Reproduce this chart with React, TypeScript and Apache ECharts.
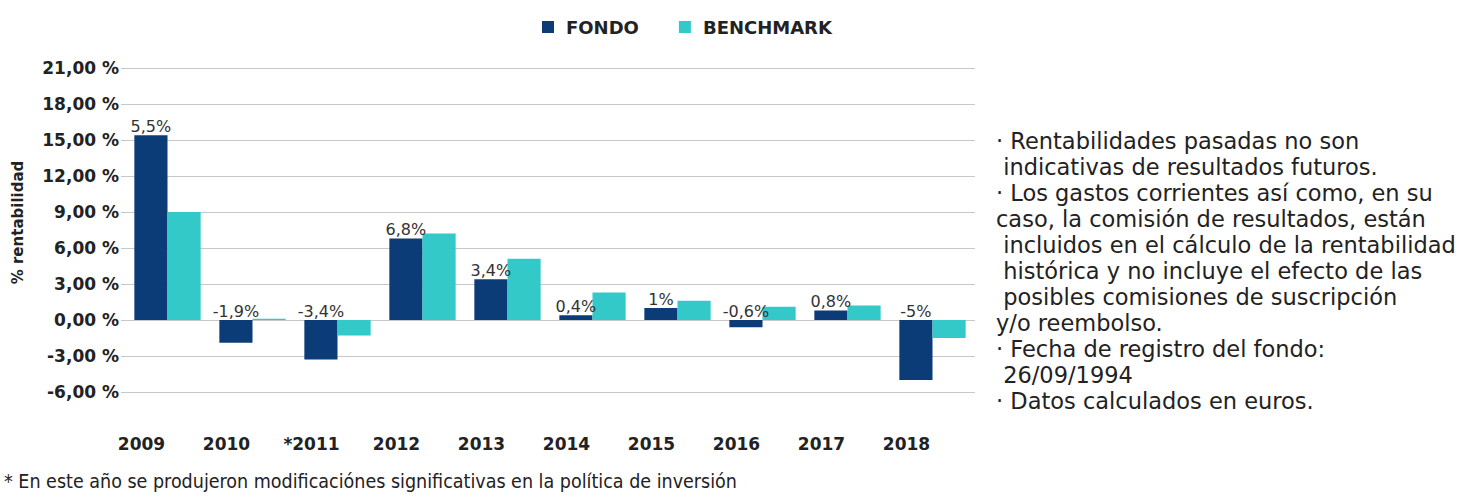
import React, { useEffect, useRef } from "react";
import * as echarts from "echarts";

const categories = ["2009", "2010", "*2011", "2012", "2013", "2014", "2015", "2016", "2017", "2018"];
const fondoValues = [15.4, -1.9, -3.3, 6.8, 3.4, 0.4, 1.0, -0.6, 0.8, -5.0];
const benchmarkValues = [9.0, 0.1, -1.3, 7.2, 5.1, 2.3, 1.6, 1.1, 1.2, -1.5];
const fondoLabels = ["5,5%", "-1,9%", "-3,4%", "6,8%", "3,4%", "0,4%", "1%", "-0,6%", "0,8%", "-5%"];
const yTicks = { min: -6, max: 21, interval: 3 };

const noteLines = [
  "· Rentabilidades pasadas no son",
  " indicativas de resultados futuros.",
  "· Los gastos corrientes así como, en su",
  "caso, la comisión de resultados, están",
  " incluidos en el cálculo de la rentabilidad",
  " histórica y no incluye el efecto de las",
  " posibles comisiones de suscripción",
  "y/o reembolso.",
  "· Fecha de registro del fondo:",
  " 26/09/1994",
  "· Datos calculados en euros.",
];
const footnote = "* En este año se produjeron modificaciónes significativas en la política de inversión";

export default function App() {
  const ref = useRef<HTMLDivElement>(null);
  useEffect(() => {
    if (!ref.current) return;
    const chart = echarts.init(ref.current, undefined, { renderer: "svg" });
    const font = "DejaVu Sans";
    chart.setOption({
      animation: false,
      backgroundColor: "#ffffff",
      textStyle: { fontFamily: font },
      legend: {
        left: 537,
        top: 13,
        itemWidth: 12,
        itemHeight: 12,
        itemGap: 40,
        icon: "rect",
        textStyle: {
          fontFamily: font,
          fontWeight: "bold",
          fontSize: 18,
          color: "#222",
          padding: [0, 0, 0, 7],
        },
        data: ["FONDO", "BENCHMARK"],
      },
      grid: { left: 125, top: 68, width: 850, height: 324, containLabel: false },
      xAxis: {
        type: "category",
        data: categories,
        axisLine: { show: false },
        axisTick: { show: false },
        axisLabel: {
          fontFamily: font,
          fontWeight: "bold",
          fontSize: 17,
          color: "#222",
          margin: 43,
          padding: [0, 52, 0, 0],
        },
      },
      yAxis: {
        type: "value",
        min: yTicks.min,
        max: yTicks.max,
        interval: yTicks.interval,
        name: "% rentabilidad",
        nameLocation: "middle",
        nameRotate: 90,
        nameGap: 100,
        nameTextStyle: { fontFamily: font, fontWeight: "bold", fontSize: 15, color: "#222", padding: [0, 0, 0, 15] },
        axisLine: { show: false },
        axisTick: { show: true, length: 4, lineStyle: { color: "#c8c8c8" } },
        splitLine: { lineStyle: { color: "#c8c8c8", width: 1 } },
        axisLabel: {
          fontFamily: font,
          fontWeight: "bold",
          fontSize: 17,
          color: "#222",
          margin: 6,
          formatter: (v: number) => v.toFixed(2).replace(".", ",") + " %",
        },
      },
      series: [
        {
          name: "FONDO",
          type: "bar",
          data: fondoValues,
          barGap: "0%",
          barCategoryGap: "22%",
          itemStyle: { color: "#0b3c78" },
          label: {
            show: true,
            position: "top",
            distance: 1,
            fontFamily: font,
            fontSize: 16,
            color: "#333",
            formatter: (p: any) => fondoLabels[p.dataIndex],
          },
        },
        {
          name: "BENCHMARK",
          type: "bar",
          data: benchmarkValues,
          barGap: "0%",
          barCategoryGap: "22%",
          itemStyle: { color: "#33c9c9" },
        },
      ],
      graphic: [
        {
          type: "text",
          left: 996,
          top: 128,
          style: {
            text: noteLines.join("\n"),
            fontFamily: font,
            fontSize: 22.5,
            lineHeight: 26,
            fill: "#222",
          },
        },
        {
          type: "text",
          left: 4,
          top: 471,
          style: {
            text: footnote,
            fontFamily: "DejaVu Sans Condensed",
            fontSize: 19.5,
            fill: "#222",
          },
        },
      ],
    });
    return () => chart.dispose();
  }, []);
  return (
    <div
      ref={ref}
      style={{ position: "fixed", left: 0, top: 0, width: 1479, height: 498 }}
    />
  );
}
